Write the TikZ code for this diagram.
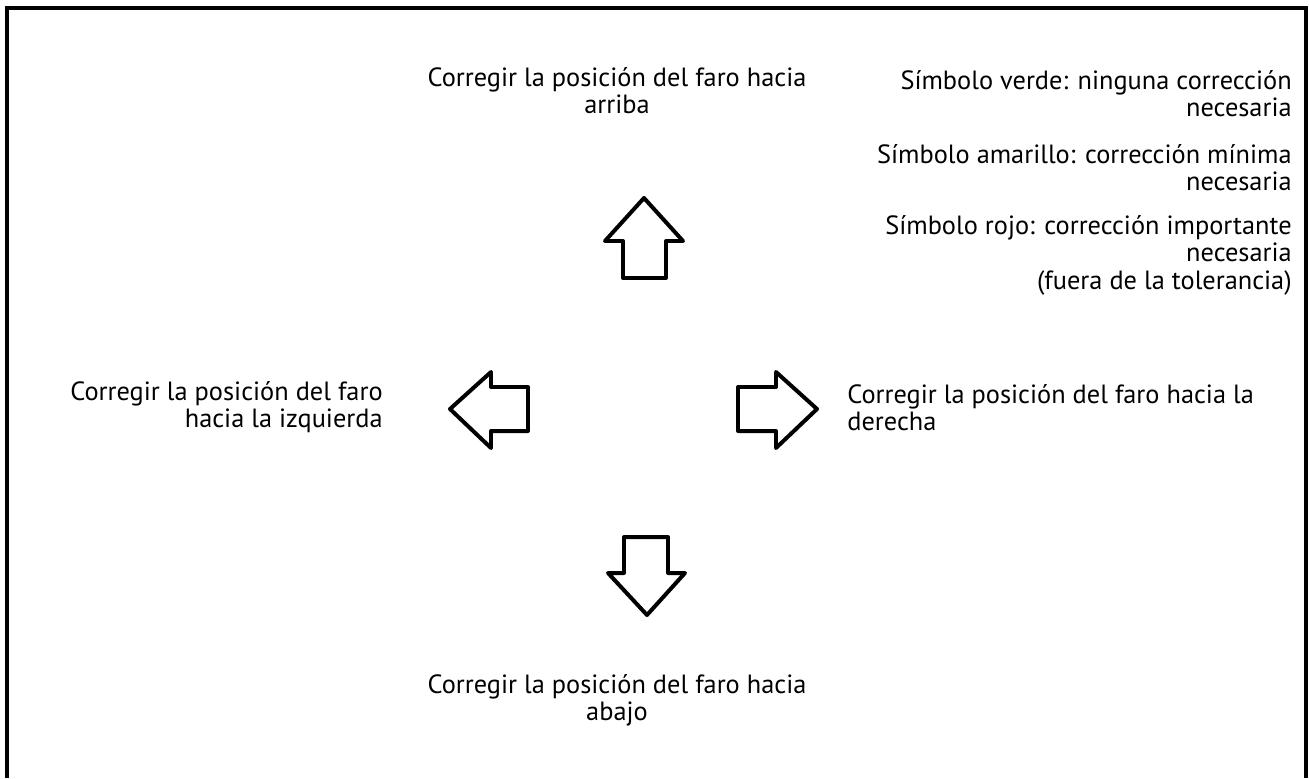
\documentclass[tikz,border=0pt]{standalone}
\usepackage{fontspec}
\setmainfont{PT Sans}
\begin{document}
\begin{tikzpicture}[x=0.02cm,y=-0.02cm,
	flecha/.style={line width=4*0.567pt,line join=round},
	texto/.style={inner sep=0pt,font=\fontsize{15pt}{15.6pt}\selectfont}]
				\useasboundingbox (0,0) rectangle (1309,778);
				%Marco
				\draw[line width=3.5*0.567pt] (7,778)--(7,8)--(1306,8)--(1306,778);
				%Flecha arriba
				\draw[flecha] (644,198)--(683,241)--(666,241)--(666,278)--(623,278)--(623,241)--(605,241)--cycle;
				\node[texto,align=center,anchor=north] (arriba) at (617,67) {Corregir la posición del faro hacia\\arriba};
				%Flecha abajo
				\draw[flecha] (624,537)--(668,537)--(668,573)--(685,573)--(647,615)--(608,573)--(624,573)--cycle;
				\node[texto,align=center,anchor=north] (abajo) at (617,674) {Corregir la posición del faro hacia\\abajo};
				%Flecha izquierda
				\draw[flecha] (450,409)--(491,372)--(491,387)--(528,387)--(528,431)--(491,431)--(491,448)--cycle;
				\node[texto,align=right,anchor=north east] (izquierda) at (383,381) {Corregir la posición del faro\\hacia la izquierda};
				%Flecha derecha
				\draw[flecha] (738,387)--(776,387)--(776,372)--(817,409)--(776,448)--(776,431)--(738,431)--cycle;
				\node[texto,align=left,anchor=north west] (derecha) at (847,384) {Corregir la posición del faro hacia la\\derecha};
				%Leyenda
				\node[texto,align=right,anchor=north east] (verde) at (1292,70) {Símbolo verde: ninguna corrección\\necesaria};
				\node[texto,align=right,anchor=north east] (amarillo) at (1292,144) {Símbolo amarillo: corrección mínima\\necesaria};
				\node[texto,align=right,anchor=north east] (rojo) at (1292,215) {Símbolo rojo: corrección importante\\necesaria\\(fuera de la tolerancia)};
			\end{tikzpicture}
\end{document}
